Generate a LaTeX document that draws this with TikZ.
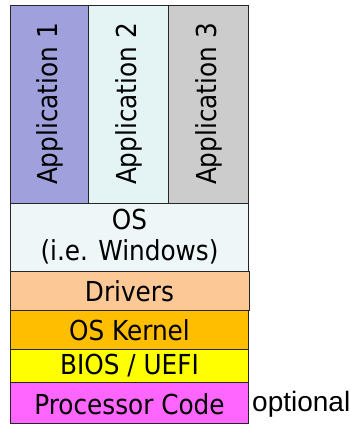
\documentclass[tikz,border=0pt]{standalone}
\usepackage{fontspec}
\setmainfont{DejaVu Sans Condensed}
\newfontfamily\arialfont{Liberation Sans}
\definecolor{appA}{RGB}{160,160,220}
\definecolor{appB}{RGB}{228,243,243}
\definecolor{appC}{RGB}{204,204,204}
\definecolor{osc}{RGB}{238,246,248}
\definecolor{drv}{RGB}{252,200,150}
\definecolor{kern}{RGB}{255,190,0}
\definecolor{bios}{RGB}{255,255,0}
\definecolor{proc}{RGB}{255,102,255}
\tikzset{
  layer/.style={draw=black!85, line width=1pt},
  lbl/.style={font=\fontsize{27.5}{31}\selectfont, inner sep=0pt, align=center},
  applbl/.style={lbl, rotate=90}
}
\begin{document}
\begin{tikzpicture}[x=1pt,y=-1pt]
\useasboundingbox (0,0) rectangle (350,425);
% applications
\filldraw[layer, fill=appA] (10.5,5.5) rectangle (88,203);
\filldraw[layer, fill=appB] (88,5.5) rectangle (168,203);
\filldraw[layer, fill=appC] (168,5.5) rectangle (248.5,203);
\node[applbl] (a1) at (50,104) {Application 1};
\node[applbl] (a2) at (129,104) {Application 2};
\node[applbl] (a3) at (209,104) {Application 3};
% layers
\filldraw[layer, fill=osc] (10.5,203) rectangle (248.5,271);
\node[lbl] (os) at (129.5,237) {OS\\(i.e. Windows)};
\filldraw[layer, fill=drv] (10.5,271) rectangle (249.5,310);
\node[lbl] (drv) at (129.5,291) {Drivers};
\filldraw[layer, fill=kern] (10.5,310) rectangle (248.5,349);
\node[lbl] (kern) at (129.5,330) {OS Kernel};
\filldraw[layer, fill=bios] (10.5,349) rectangle (248.5,382.5);
\node[lbl] (bios) at (129.5,366) {BIOS / UEFI};
\filldraw[layer, fill=proc] (10.5,382.5) rectangle (248.5,423);
\node[lbl] (proc) at (129.5,404) {Processor Code};
\node[font=\arialfont\fontsize{28}{32}\selectfont, inner sep=0pt, anchor=west] (opt) at (252,404) {optional};
\end{tikzpicture}
\end{document}
